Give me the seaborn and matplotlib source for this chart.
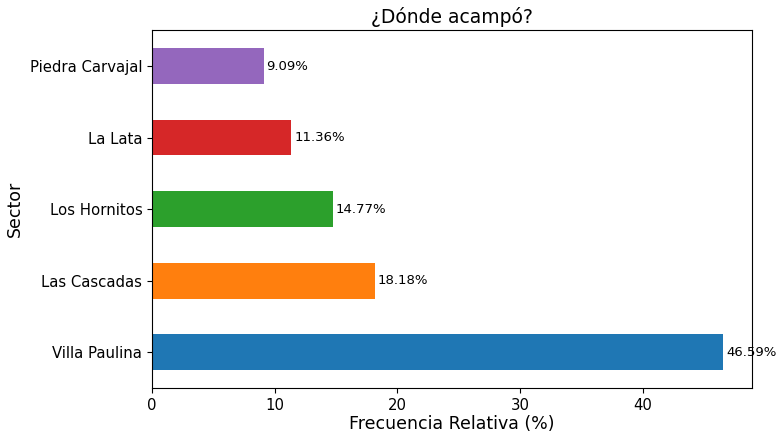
import matplotlib
matplotlib.use("Agg")
import matplotlib.pyplot as plt
import seaborn as sns
import pandas as pd

sectores = ["Piedra Carvajal", "La Lata", "Los Hornitos", "Las Cascadas", "Villa Paulina"]
frecuencias = [9.09, 11.36, 14.77, 18.18, 46.59]
colores = ["#9467bd", "#d62728", "#2ca02c", "#ff7f0e", "#1f77b4"]

df = pd.DataFrame({"Sector": sectores, "Frecuencia": frecuencias})

fig, ax = plt.subplots(figsize=(7.76, 4.32), dpi=100)
fig.subplots_adjust(left=0.196, right=0.969, top=0.93, bottom=0.102)

sns.barplot(data=df, x="Frecuencia", y="Sector", hue="Sector", palette=colores,
            orient="h", width=0.5, legend=False, ax=ax, saturation=1)

for cont in ax.containers:
    ax.bar_label(cont, fmt="%.2f%%", padding=2, fontsize=9.5)

ax.set_xlim(0, max(frecuencias) * 1.05)
ax.set_title("¿Dónde acampó?", fontsize=13.5, pad=5)
ax.set_xlabel("Frecuencia Relativa (%)", fontsize=12.5, labelpad=2)
ax.set_ylabel("Sector", fontsize=12.5)
ax.tick_params(labelsize=10.7)

plt.savefig("out.png", dpi=100)
plt.close()
